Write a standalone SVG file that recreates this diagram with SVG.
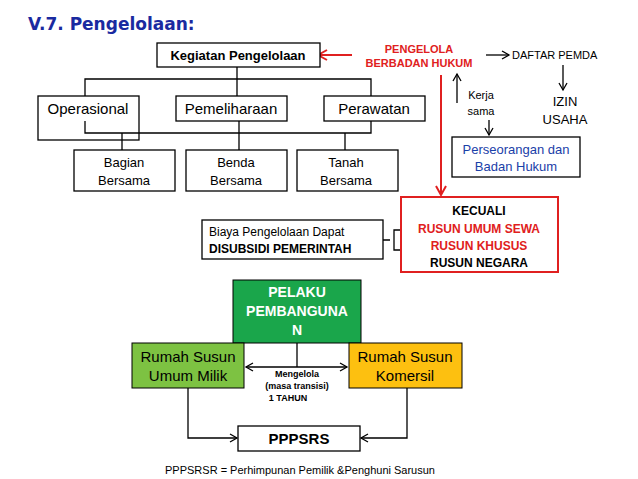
<svg xmlns="http://www.w3.org/2000/svg" width="638" height="479" viewBox="0 0 638 479" font-family="'Liberation Sans', Arial, sans-serif">
<style>
.b{fill:#fff;stroke:#000;stroke-width:1.3}
.l{fill:none;stroke:#000;stroke-width:1.3}
.r{fill:none;stroke:#e02020;stroke-width:2}
.t13{font-size:13px;text-anchor:middle}
.t14{font-size:15px;text-anchor:middle}
.red{fill:#e02020;font-weight:bold}
</style>
<defs>
<marker id="a" markerWidth="10" markerHeight="10" refX="8" refY="5" orient="auto-start-reverse" markerUnits="userSpaceOnUse"><path d="M1,1 L8,5 L1,9" fill="none" stroke="#000" stroke-width="1.3"/></marker>
<marker id="ar" markerWidth="12" markerHeight="12" refX="10" refY="6" orient="auto" markerUnits="userSpaceOnUse"><path d="M1,1 L10,6 L1,11" fill="none" stroke="#e02020" stroke-width="2"/></marker>
</defs>
<rect width="638" height="479" fill="#fff"/>
<text x="28" y="30" font-size="17" font-weight="bold" fill="#1a2aa0" font-family="'DejaVu Sans', sans-serif">V.7. Pengelolaan:</text>

<g id="connectors">
<path class="l" d="M237,66 V96 M85,96 V79 H371 V96"/>
<path class="l" d="M239,121 V150 M345,133 V150" stroke-width="2"/>
<path class="r" d="M352,55 H318" marker-end="url(#ar)"/>
<path class="r" d="M441,75 V195" marker-end="url(#ar)"/>
<path class="l" d="M486,55 H509" marker-end="url(#a)"/>
<path class="l" d="M563,65 V90" marker-end="url(#a)"/>
<path class="l" d="M457,103 V74" marker-end="url(#a)"/>
<path class="l" d="M489,120 V135" marker-end="url(#a)"/>
<path class="l" d="M383,240 H390 M400,230 H394 V250 H400" stroke-width="2"/>
<path class="l" d="M297,343 V367"/>
<path class="l" d="M246,367 H347" marker-start="url(#a)" marker-end="url(#a)"/>
<path class="l" d="M188,388 V438 H237" marker-end="url(#a)"/>
<path class="l" d="M407,388 V438 H361" marker-end="url(#a)"/>
</g>

<g id="kegiatan"><rect class="b" x="157" y="43" width="163" height="24"/><text x="238" y="60" font-size="13" font-weight="bold" text-anchor="middle">Kegiatan Pengelolaan</text></g>
<g id="operasional"><rect class="b" x="38" y="96" width="101" height="44"/><text x="88" y="114" class="t14">Operasional</text></g>
<g id="pemeliharaan"><rect class="b" x="176" y="96" width="111" height="25"/><text x="231" y="114" class="t14">Pemeliharaan</text></g>
<g id="perawatan"><rect class="b" x="324" y="96" width="101" height="25"/><text x="374" y="114" class="t14">Perawatan</text></g>
<path class="l" d="M85,121 V133 H371 V121 M122,133 V150" stroke-width="2"/>
<g id="bagian"><rect class="b" x="74" y="150" width="101" height="41"/><text class="t13" x="124" y="167">Bagian</text><text class="t13" x="124" y="185">Bersama</text></g>
<g id="benda"><rect class="b" x="186" y="150" width="101" height="41"/><text class="t13" x="236" y="167">Benda</text><text class="t13" x="236" y="185">Bersama</text></g>
<g id="tanah"><rect class="b" x="297" y="150" width="101" height="41"/><text class="t13" x="346" y="167">Tanah</text><text class="t13" x="346" y="185">Bersama</text></g>

<g id="pengelola"><text class="red" x="419" y="53" font-size="11" text-anchor="middle">PENGELOLA</text><text class="red" x="419" y="67" font-size="11" text-anchor="middle">BERBADAN HUKUM</text></g>
<g id="daftar"><text x="512" y="59" font-size="11">DAFTAR PEMDA</text></g>
<g id="izin"><text class="t13" x="565" y="106">IZIN</text><text class="t13" x="565" y="124">USAHA</text></g>
<g id="kerja"><text x="481" y="99" font-size="11" text-anchor="middle">Kerja</text><text x="481" y="115" font-size="11" text-anchor="middle">sama</text></g>
<g id="perseorangan"><rect class="b" x="452" y="137" width="128" height="40"/><text class="t13" x="516" y="154" fill="#1a40a8">Perseorangan dan</text><text class="t13" x="516" y="171" fill="#1a40a8">Badan Hukum</text></g>
<g id="kecuali"><rect x="401" y="197" width="157" height="75" fill="#fff" stroke="#e02020" stroke-width="2"/>
<text x="479" y="215" font-size="12" font-weight="bold" text-anchor="middle">KECUALI</text>
<text class="red" x="479" y="233" font-size="12" text-anchor="middle">RUSUN UMUM SEWA</text>
<text class="red" x="479" y="250" font-size="12" text-anchor="middle">RUSUN KHUSUS</text>
<text x="479" y="267" font-size="12" font-weight="bold" text-anchor="middle">RUSUN NEGARA</text></g>
<g id="biaya"><rect class="b" x="202" y="220" width="181" height="39"/><text x="209" y="236" font-size="12">Biaya Pengelolaan Dapat</text><text x="209" y="253" font-size="12" font-weight="bold">DISUBSIDI PEMERINTAH</text></g>

<g id="pelaku"><rect x="233" y="280" width="128" height="63" fill="#1aa64b" stroke="#000"/>
<text x="297" y="297" font-size="14" font-weight="bold" fill="#fff" text-anchor="middle">PELAKU</text>
<text x="297" y="316" font-size="14" font-weight="bold" fill="#fff" text-anchor="middle">PEMBANGUNA</text>
<text x="297" y="335" font-size="14" font-weight="bold" fill="#fff" text-anchor="middle">N</text></g>
<g id="umum"><rect x="132" y="343" width="112" height="45" fill="#7dc242" stroke="#000"/><text class="t14" x="188" y="362">Rumah Susun</text><text class="t14" x="188" y="381">Umum Milik</text></g>
<g id="komersil"><rect x="349" y="343" width="113" height="45" fill="#fdc010" stroke="#000"/><text class="t14" x="405" y="362">Rumah Susun</text><text class="t14" x="405" y="381">Komersil</text></g>
<g id="mengelola"><text x="297" y="377" font-size="9" font-weight="bold" text-anchor="middle">Mengelola</text><text x="297" y="389" font-size="9" font-weight="bold" text-anchor="middle">(masa transisi)</text><text x="288" y="401" font-size="9" font-weight="bold" text-anchor="middle">1 TAHUN</text></g>
<g id="pppsrs"><rect class="b" x="238" y="426" width="122" height="25"/><text x="299" y="444" font-size="15" font-weight="bold" text-anchor="middle">PPPSRS</text></g>
<text x="300" y="474" font-size="11" text-anchor="middle">PPPSRSR = Perhimpunan Pemilik &amp;Penghuni Sarusun</text>
</svg>
